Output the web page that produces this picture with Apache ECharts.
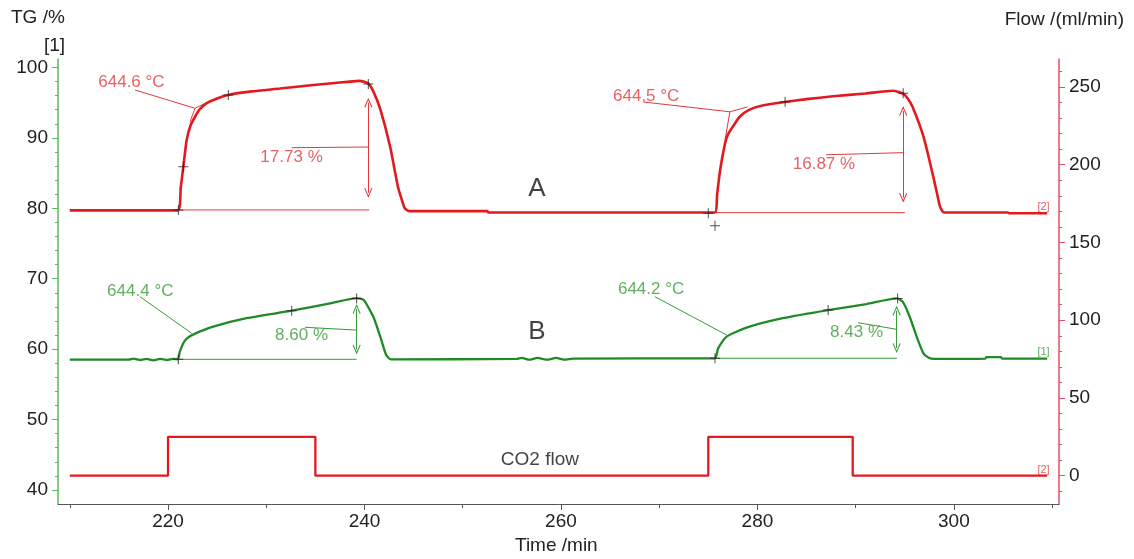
<!DOCTYPE html>
<html><head><meta charset="utf-8">
<script src="https://cdn.jsdelivr.net/npm/echarts@6/dist/echarts.min.js"></script>
<style>html,body{margin:0;padding:0;background:#fff}#c{width:1134px;height:559px}</style>
</head><body><div id="c"></div>
<script>
// ---- data (time /min, value) ----
const timeTicks = [220, 240, 260, 280, 300];
const timeMinor = [210, 230, 250, 270, 290, 310];
const tgTicks = [40, 50, 60, 70, 80, 90, 100];
const tgMinor = [42,44,46,48,52,54,56,58,62,64,66,68,72,74,76,78,82,84,86,88,92,94,96,98];
const flowTicks = [0, 50, 100, 150, 200, 250];
const flowMinor = [-10,10,20,30,40,60,70,80,90,110,120,130,140,160,170,180,190,210,220,230,240,260];

const curveA = [[210.0,79.7],[221.0,79.7],[221.3,83.0],[221.56,85.9],[221.9,89.7],[222.3,91.8],[222.75,93.0],[223.2,94.0],[223.9,94.9],[225.0,95.6],[226.1,96.1],[228.5,96.6],[231.4,97.0],[234.8,97.5],[237.0,97.8],[239.5,98.1],[240.4,97.7],[240.9,96.6],[241.6,94.1],[242.6,88.8],[243.4,83.1],[243.8,81.2],[244.1,80.0],[244.6,79.6],[252.5,79.6],[252.6,79.4],[275.65,79.4],[275.9,82.0],[276.2,85.4],[276.7,89.2],[277.0,90.5],[277.5,91.6],[278.2,93.0],[279.2,94.0],[280.5,94.6],[282.8,95.1],[285.0,95.5],[287.7,95.9],[291.0,96.3],[293.8,96.7],[294.8,96.3],[295.3,95.6],[295.8,94.4],[296.9,90.2],[297.9,84.5],[298.3,82.0],[298.6,80.2],[299.0,79.4],[305.5,79.4],[305.6,79.3],[309.5,79.3]];
const curveB = [[210.0,58.5],[216.0,58.5],[216.5,58.65],[217.2,58.45],[217.8,58.6],[218.5,58.4],[219.2,58.6],[219.9,58.45],[220.5,58.6],[221.0,58.55],[221.2,59.6],[221.5,60.7],[221.9,61.5],[222.75,62.2],[224.6,63.2],[228.0,64.4],[232.6,65.45],[236.5,66.5],[239.2,67.25],[239.9,67.0],[240.9,64.6],[241.6,61.8],[242.2,59.2],[242.7,58.55],[255.5,58.6],[256.0,58.75],[256.8,58.5],[257.6,58.75],[258.6,58.5],[259.5,58.75],[260.4,58.5],[261.2,58.65],[275.65,58.7],[276.0,60.1],[276.9,61.8],[279.2,63.2],[282.6,64.4],[287.2,65.55],[291.1,66.4],[294.2,67.2],[294.8,66.7],[295.5,64.6],[296.2,61.8],[296.9,59.4],[297.4,58.8],[298.0,58.6],[303.2,58.65],[303.3,58.85],[304.8,58.85],[304.9,58.65],[309.5,58.65]];
const co2Flow = [[210,0],[220,0],[220,25],[235,25],[235,0],[275,0],[275,25],[289.7,25],[289.7,0],[309.5,0]];

const crossesA = [[221.05,79.76],[221.56,85.9],[226.14,96.1],[240.39,97.66],[275.0,79.29],[275.68,77.53],[282.82,95.14],[294.84,96.33]];
const crossesB = [[221.05,58.55],[232.59,65.45],[239.2,67.2],[275.68,58.7],[287.2,65.55],[294.27,67.2]];
const leadersA = [
  [[216.64,96.8],[222.75,94.2]],
  [[222.24,92.3],[222.75,94.2],[223.87,94.96]],
  [[232.6,88.6],[240.4,88.7]],
  [[221.05,79.76],[240.5,79.76]],
  [[268.35,95.1],[277.2,93.7]],
  [[276.7,89.7],[277.2,93.7],[279.0,94.4]],
  [[287.0,87.6],[294.84,87.9]],
  [[274.8,79.38],[295.0,79.38]]
];
const leadersB = [
  [[217.15,67.44],[222.41,62.24]],
  [[233.94,63.1],[239.2,62.7]],
  [[221.05,58.55],[239.2,58.55]],
  [[269.57,67.44],[276.87,62.0]],
  [[290.25,63.75],[294.2,62.8]],
  [[275.68,58.7],[294.2,58.7]]
];
const arrowsA = [[240.39,95.0,82.2],[294.84,93.8,81.5]];
const arrowsB = [[239.2,65.7,59.95],[294.17,65.45,60.15]];
const notesA = [[212.9,97.9,'644.6 °C'],[229.4,87.3,'17.73 %'],[265.3,95.9,'644.5 °C'],[283.6,86.3,'16.87 %']];
const notesB = [[213.8,68.25,'644.4 °C'],[230.9,62.0,'8.60 %'],[265.8,68.5,'644.2 °C'],[287.4,62.4,'8.43 %']];
const tagsA = [[308.5,80.2,'[2]']];
const tagsB = [[308.5,59.6,'[1]']];
const tagsFlow = [[308.5,42.8,'[2]']];
const notesBlack = [[257.56,82.7,'A',26],[257.56,62.4,'B',26],[257.86,44.25,'CO2 flow',19]];

// ---- styles ----
const RED = '#e3191f', RED_T = '#e03a3a', GREEN = '#1f8a26', GREEN_T = '#3a9a3a';
const FONT = "'Liberation Sans', Arial, sans-serif";
const X0 = 208.8, X1 = 310.7;
const Y0 = 38.0, Y1 = 101.2, F0 = -18.2, F1 = 268;
const chev = 'path://M5,0 L10,9 L9,9.8 L5,2.6 L1,9.8 L0,9 Z';
const plus = 'path://M4.5,0 H5.5 V4.5 H10 V5.5 H5.5 V10 H4.5 V5.5 H0 V4.5 H4.5 Z';

const series = [];
function seg(pts, color, w, yIdx) {
  series.push({type:'line', data: pts, xAxisIndex:0, yAxisIndex: yIdx||0, symbol:'none',
    lineStyle:{color, width:w}, silent:true, z:2});
}
leadersA.forEach(p => seg(p, RED_T, 1));
leadersB.forEach(p => seg(p, GREEN_T, 1));
function arrows(list, color) {
  series.push({type:'line', data: [], xAxisIndex:0, yAxisIndex:0, symbol:'none', silent:true,
    markLine:{silent:true, animation:false, symbol:[chev, chev], symbolSize:[8,10], label:{show:false},
      lineStyle:{color, width:1, type:'solid'},
      data: list.map(a => [{coord:[a[0],a[1]]},{coord:[a[0],a[2]]}])}});
}
arrows(arrowsA, RED_T);
arrows(arrowsB, GREEN_T);
series.push({type:'line', name:'A', data: curveA, symbol:'none', smooth:0.2, lineStyle:{color:RED, width:2.6}, z:3});
series.push({type:'line', name:'B', data: curveB, symbol:'none', smooth:0.2, lineStyle:{color:GREEN, width:2.3}, z:3});
series.push({type:'line', name:'CO2 flow', data: co2Flow, yAxisIndex:1, symbol:'none', lineStyle:{color:RED, width:2.3}, z:3});
function crosses(list) {
  series.push({type:'scatter', data: list, symbol: plus, symbolSize: 10, itemStyle:{color:'#222'}, z:5, silent:true});
}
crosses(crossesA); crosses(crossesB);
function notes(list, color, size, pos, yIdx) {
  series.push({type:'scatter', data: list.map(n => ({value:[n[0], n[1]],
      label:{formatter: n[2], fontSize: n[3] || size}})),
    yAxisIndex: yIdx||0, symbolSize: 0, silent:true, z:6,
    label:{show:true, position: pos, distance: 0, color, fontFamily: FONT, fontSize: size}});
}
notes(notesA, RED_T, 17, 'right');
notes(tagsA, RED_T, 11, 'right');
notes(notesB, GREEN_T, 17, 'right');
notes(tagsB, GREEN_T, 11, 'right');
notes(tagsFlow, RED_T, 11, 'right');
notes(notesBlack, '#111', 16, 'inside');
series.forEach(s => { s.animation = false; });

const labelStyle = {color:'#222', fontSize:19, fontFamily: FONT};
const option = {
  animation: false,
  backgroundColor: '#fff',
  grid: {left: 58, right: 75, top: 59, bottom: 55, containLabel: false},
  xAxis: [
    {type:'value', min:X0, max:X1, position:'bottom',
     axisLine:{onZero:false, lineStyle:{color:'#555', width:1}},
     axisTick:{customValues: timeTicks, length:6, lineStyle:{color:'#555'}},
     axisLabel:Object.assign({customValues: timeTicks, margin:8}, labelStyle),
     splitLine:{show:false}},
    {type:'value', min:X0, max:X1, position:'bottom',
     axisLine:{show:false, onZero:false}, axisTick:{customValues: timeMinor, length:4, lineStyle:{color:'#555'}},
     axisLabel:{show:false}, splitLine:{show:false}}
  ],
  yAxis: [
    {type:'value', min:Y0, max:Y1, position:'left',
     axisLine:{show:true, onZero:false, lineStyle:{color:'#5cb85c', width:1.5}},
     axisTick:{show:true, customValues: tgTicks, length:6, lineStyle:{color:'#5cb85c'}},
     axisLabel:Object.assign({customValues: tgTicks, margin:10}, labelStyle),
     splitLine:{show:false}},
    {type:'value', min:F0, max:F1, position:'right',
     axisLine:{show:true, onZero:false, lineStyle:{color:'#e0506a', width:1.5}},
     axisTick:{show:true, customValues: flowTicks, length:6, lineStyle:{color:'#e0506a'}},
     axisLabel:Object.assign({customValues: flowTicks, margin:10}, labelStyle),
     splitLine:{show:false}},
    {type:'value', min:Y0, max:Y1, position:'left',
     axisLine:{show:false, onZero:false}, axisTick:{show:true, customValues: tgMinor, length:3, lineStyle:{color:'#5cb85c'}},
     axisLabel:{show:false}, splitLine:{show:false}},
    {type:'value', min:F0, max:F1, position:'right',
     axisLine:{show:false, onZero:false}, axisTick:{show:true, customValues: flowMinor, length:3, lineStyle:{color:'#e0506a'}},
     axisLabel:{show:false}, splitLine:{show:false}}
  ],
  graphic: [
    {type:'text', left:11, top:8, style:{text:'TG /%', fontSize:19, fontFamily:FONT, fill:'#222'}},
    {type:'text', left:44, top:36, style:{text:'[1]', fontSize:19, fontFamily:FONT, fill:'#222'}},
    {type:'text', right:10, top:10, style:{text:'Flow /(ml/min)', fontSize:19, fontFamily:FONT, fill:'#222'}},
    {type:'text', left:515, top:536, style:{text:'Time /min', fontSize:19, fontFamily:FONT, fill:'#222'}}
  ],
  series
};
const chart = echarts.init(document.getElementById('c'), null, {renderer:'canvas'});
chart.setOption(option);
</script>
</body></html>
